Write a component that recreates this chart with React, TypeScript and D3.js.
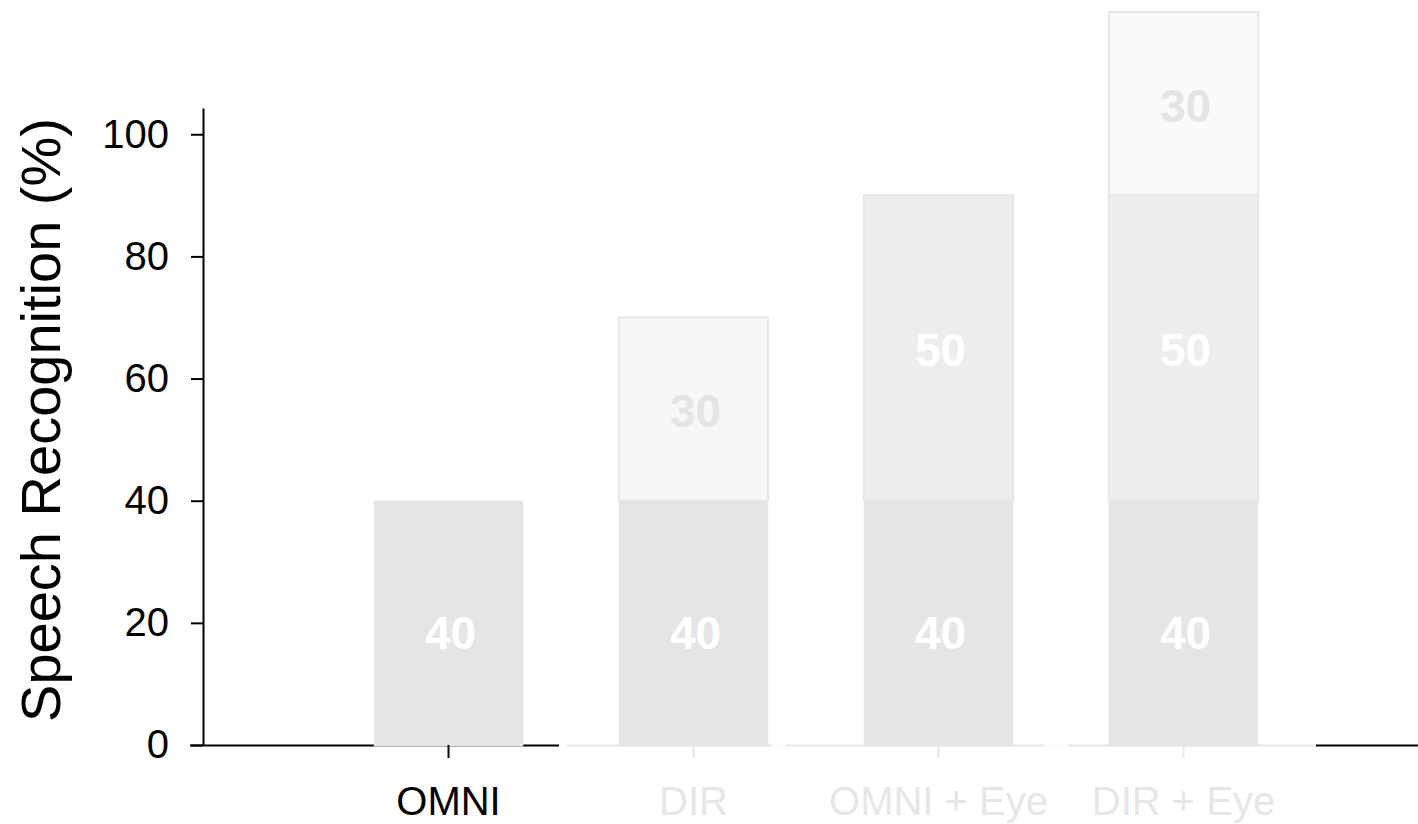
import React, { useEffect, useRef } from 'react';
import * as d3 from 'd3';

// Hearing-aid conditions and speech recognition scores (%)
const categories = ['OMNI', 'DIR', 'OMNI + Eye', 'DIR + Eye'];
const baseScores = [40, 40, 40, 40];
const eyeGains = [0, 0, 50, 50];
const dirGains = [0, 30, 0, 30];
const yTicks = [0, 20, 40, 60, 80, 100];

// per-condition emphasis: the first condition is highlighted, the rest are faded
const labelColors = ['#000000', '#e6e6e6', '#e6e6e6', '#e6e6e6'];
const dirFills = ['#f7f7f7', '#f7f7f7', '#f7f7f7', '#fafafa'];

const W = 1418;
const H = 824;
const FONT = '"Liberation Sans", Arial, Helvetica, sans-serif';

export default function App() {
  const ref = useRef<SVGSVGElement | null>(null);

  useEffect(() => {
    const svg = d3.select(ref.current);
    svg.selectAll('*').remove();

    const x = d3
      .scaleBand<string>()
      .domain(categories)
      .range([326, 1306])
      .paddingInner(0.39)
      .paddingOuter(0.195);
    const y = d3.scaleLinear().domain([0, 104.3]).range([745, 108]);

    const rows = categories.map((c, i) => ({
      cat: c,
      i,
      layers: [
        { key: 'base', y0: 0, y1: baseScores[i], v: baseScores[i] },
        { key: 'eye', y0: baseScores[i], y1: baseScores[i] + eyeGains[i], v: eyeGains[i] },
        {
          key: 'dir',
          y0: baseScores[i] + eyeGains[i],
          y1: baseScores[i] + eyeGains[i] + dirGains[i],
          v: dirGains[i],
        },
      ].filter((l) => l.v > 0),
    }));

    const fillFor = (key: string, i: number) =>
      key === 'base' ? '#e5e5e5' : key === 'eye' ? '#ededed' : dirFills[i];
    const textFor = (key: string) => (key === 'dir' ? '#e4e4e4' : '#ffffff');

    // x axis baseline, drawn in pieces so each condition can carry its own emphasis
    const axisPieces = [
      { from: 190, to: 559, color: '#000000' },
      { from: 559, to: 567, color: '#f9f9f9' },
      { from: 567, to: 772, color: '#e6e6e6' },
      { from: 772, to: 786, color: '#fbfbfb' },
      { from: 786, to: 1044, color: '#e6e6e6' },
      { from: 1044, to: 1068, color: '#fbfbfb' },
      { from: 1068, to: 1316, color: '#e6e6e6' },
      { from: 1316, to: 1418, color: '#000000' },
    ];
    svg
      .append('g')
      .selectAll('line')
      .data(axisPieces)
      .join('line')
      .attr('x1', (d) => d.from)
      .attr('x2', (d) => d.to)
      .attr('y1', y(0) + 0.5)
      .attr('y2', y(0) + 0.5)
      .attr('stroke', (d) => d.color)
      .attr('stroke-width', 2);

    // stacked bars
    const bars = svg.append('g');
    rows.forEach((r) => {
      const g = bars.append('g');
      g.selectAll('rect')
        .data(r.layers)
        .join('rect')
        .attr('x', x(r.cat)!)
        .attr('width', x.bandwidth())
        .attr('y', (d) => y(d.y1))
        .attr('height', (d) => y(d.y0) - y(d.y1) + (d.key === 'base' ? 1.5 : 0))
        .attr('fill', (d) => fillFor(d.key, r.i))
        .attr('stroke', (d) => (d.key === 'base' ? 'none' : '#e6e6e6'))
        .attr('stroke-width', 2);
    });
    rows.forEach((r) => {
      bars
        .append('g')
        .selectAll('text')
        .data(r.layers)
        .join('text')
        .attr('x', x(r.cat)! + x.bandwidth() / 2 + 2)
        .attr('y', (d) => (y(d.y0) + y(d.y1)) / 2 + (d.key === 'base' ? 10 : 2))
        .attr('dy', '0.35em')
        .attr('text-anchor', 'middle')
        .attr('font-family', FONT)
        .attr('font-weight', 'bold')
        .attr('font-size', 46)
        .attr('fill', (d) => textFor(d.key))
        .text((d) => d.v);
    });

    // x ticks and labels
    const xt = svg.append('g');
    categories.forEach((c, i) => {
      const cx = x(c)! + x.bandwidth() / 2;
      xt.append('line')
        .attr('x1', cx)
        .attr('x2', cx)
        .attr('y1', y(0))
        .attr('y2', y(0) + 13)
        .attr('stroke', labelColors[i])
        .attr('stroke-width', 2);
      xt.append('text')
        .attr('x', cx)
        .attr('y', 815)
        .attr('text-anchor', 'middle')
        .attr('font-family', FONT)
        .attr('font-size', 40)
        .attr('fill', labelColors[i])
        .text(c);
    });

    // y axis
    const yAxis = d3
      .axisLeft(y)
      .tickValues(yTicks)
      .tickSize(12)
      .tickPadding(22)
      .tickSizeOuter(0);
    const ya = svg.append('g').attr('transform', 'translate(203,0)').call(yAxis);
    ya.select('.domain').attr('stroke', '#000').attr('stroke-width', 2);
    ya.selectAll('.tick line').attr('stroke', '#000').attr('stroke-width', 2);
    ya.selectAll('.tick text')
      .attr('font-family', FONT)
      .attr('font-size', 40)
      .attr('fill', '#000');

    svg
      .append('text')
      .attr('transform', `translate(60,${420}) rotate(-90)`)
      .attr('text-anchor', 'middle')
      .attr('font-family', FONT)
      .attr('font-size', 56)
      .attr('fill', '#000')
      .text('Speech Recognition (%)');
  }, []);

  return (
    <svg
      ref={ref}
      width={W}
      height={H}
      style={{ position: 'absolute', left: 0, top: 0, background: '#ffffff' }}
    />
  );
}
